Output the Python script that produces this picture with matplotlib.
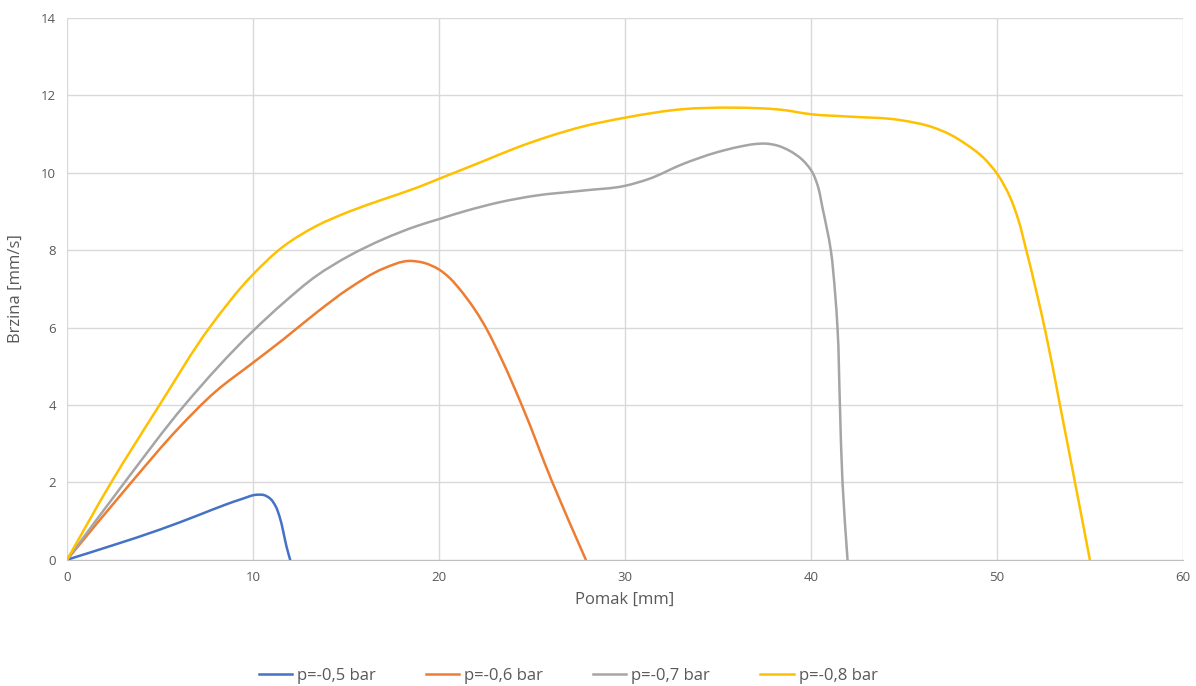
import matplotlib.pyplot as plt
import numpy as np
from matplotlib.path import Path
from matplotlib.patches import PathPatch
from matplotlib.lines import Line2D
from matplotlib.transforms import IdentityTransform

plt.rcParams['font.family'] = ['Open Sans', 'DejaVu Sans']

# values
x_05 = [0, 2.5, 5, 7, 8.5, 9.4, 10.2, 10.6, 10.95, 11.2, 11.44, 11.62, 11.8, 12.0]
y_05 = [0, 0.38, 0.78, 1.14, 1.42, 1.57, 1.68, 1.67, 1.57, 1.40, 1.1, 0.75, 0.35, 0]

x_06 = [0, 3.46, 6, 8, 10, 11.65, 13.4, 15.2, 17.0, 18.4, 19.2, 20, 20.6, 21.1, 21.85, 22.4, 23.4,
        24.45, 26.1, 27.9]
y_06 = [0, 2.0, 3.4, 4.35, 5.09, 5.7, 6.38, 7.02, 7.52, 7.72, 7.67, 7.5, 7.27, 7.0, 6.52, 6.1, 5.15,
        4.0, 2.0, 0]

x_07 = [0, 3.1, 6.33, 10, 11.65, 13.4, 15.2, 17.0, 18.8, 20, 21.5, 23.3, 25.1, 27.8, 30,
        31.3, 33.1, 34.9, 36.15, 37.0, 37.6, 38.2, 38.84, 39.5, 40.09, 40.35, 40.63, 41.07, 41.3,
        41.43, 41.56, 41.7, 41.97]
y_07 = [0, 2.0, 4.0, 5.91, 6.64, 7.33, 7.86, 8.28, 8.62, 8.8, 9.02, 9.24, 9.40, 9.54, 9.66,
        9.84, 10.22, 10.52, 10.67, 10.74, 10.75, 10.70, 10.57, 10.35, 10.0, 9.69, 9.08, 8.0, 6.9,
        6.0, 4.0, 2.0, 0]

x_08 = [0, 2.38, 4.98, 7.67, 10, 11.65, 13.4, 15.2, 17.0, 18.8, 20, 22.4, 24.2, 26, 27.8, 30, 33.1,
        35.8, 38.5, 40, 42, 44.78, 46.57, 47.47, 48.36, 49.25, 50, 50.68, 51.13, 51.58, 52.6, 53.4,
        54.2, 55]
y_08 = [0, 2.0, 4.0, 6.0, 7.37, 8.10, 8.62, 9.0, 9.31, 9.61, 9.84, 10.30, 10.65, 10.95, 11.2, 11.42, 11.64,
        11.68, 11.62, 11.51, 11.45, 11.36, 11.17, 10.99, 10.73, 10.40, 9.98, 9.40, 8.82, 8.0, 5.92, 3.98,
        2.0, 0]

series = [
    ("p=-0,5 bar", x_05, y_05, "#4472C4"),
    ("p=-0,6 bar", x_06, y_06, "#ED7D31"),
    ("p=-0,7 bar", x_07, y_07, "#A5A5A5"),
    ("p=-0,8 bar", x_08, y_08, "#FFC000"),
]


def smooth_path(ax, xs, ys):
    # smoothed line like excel: cubic bezier through the points (display space)
    pts = ax.transData.transform(np.column_stack([xs, ys]))
    n = len(pts)
    d = np.linalg.norm(np.diff(pts, axis=0), axis=1)
    tang = []
    for i in range(n):
        if i == 0:
            t = pts[1] - pts[0]
        elif i == n - 1:
            t = pts[-1] - pts[-2]
        else:
            a = (pts[i] - pts[i - 1]) / d[i - 1]
            b = (pts[i + 1] - pts[i]) / d[i]
            t = a * d[i] + b * d[i - 1]
        tang.append(t / np.linalg.norm(t))
    verts = [pts[0]]
    codes = [Path.MOVETO]
    for i in range(n - 1):
        c1 = pts[i] + tang[i] * d[i] / 3.0
        c2 = pts[i + 1] - tang[i + 1] * d[i] / 3.0
        verts += [c1, c2, pts[i + 1]]
        codes += [Path.CURVE4] * 3
    return Path(verts, codes)


fig = plt.figure(figsize=(11.96, 6.86), dpi=100)
ax = fig.add_axes([0.056, 0.184, 0.933, 0.79])
ax.set_xlim(0, 60)
ax.set_ylim(0, 14)
ax.set_xticks(range(0, 61, 10))
ax.set_yticks(range(0, 15, 2))
ax.grid(True, color="#d9d9d9", linewidth=1)
ax.set_axisbelow(True)
for s in ["top", "right", "left"]:
    ax.spines[s].set_visible(False)
ax.spines["bottom"].set_color("#bfbfbf")
ax.tick_params(length=0, colors="#595959", labelsize=9.5, pad=8)
ax.set_xlabel("Pomak [mm]", fontsize=12, color="#595959", labelpad=6)
ax.set_ylabel("Brzina [mm/s]", fontsize=12, color="#595959", labelpad=12)

handles = []
for label, xs, ys, col in series:
    patch = PathPatch(smooth_path(ax, xs, ys), facecolor="none", edgecolor=col,
                      linewidth=1.8, capstyle="round", joinstyle="round")
    patch.set_transform(IdentityTransform())
    ax.add_artist(patch)
    handles.append(Line2D([], [], color=col, linewidth=1.8, label=label))

fig.legend(handles=handles, loc="center", bbox_to_anchor=(0.475, 0.015), ncol=4,
           frameon=False, fontsize=12, labelcolor="#595959", handlelength=2.0,
           columnspacing=3.0, handletextpad=0.3)

fig.savefig("out.png", dpi=100)
